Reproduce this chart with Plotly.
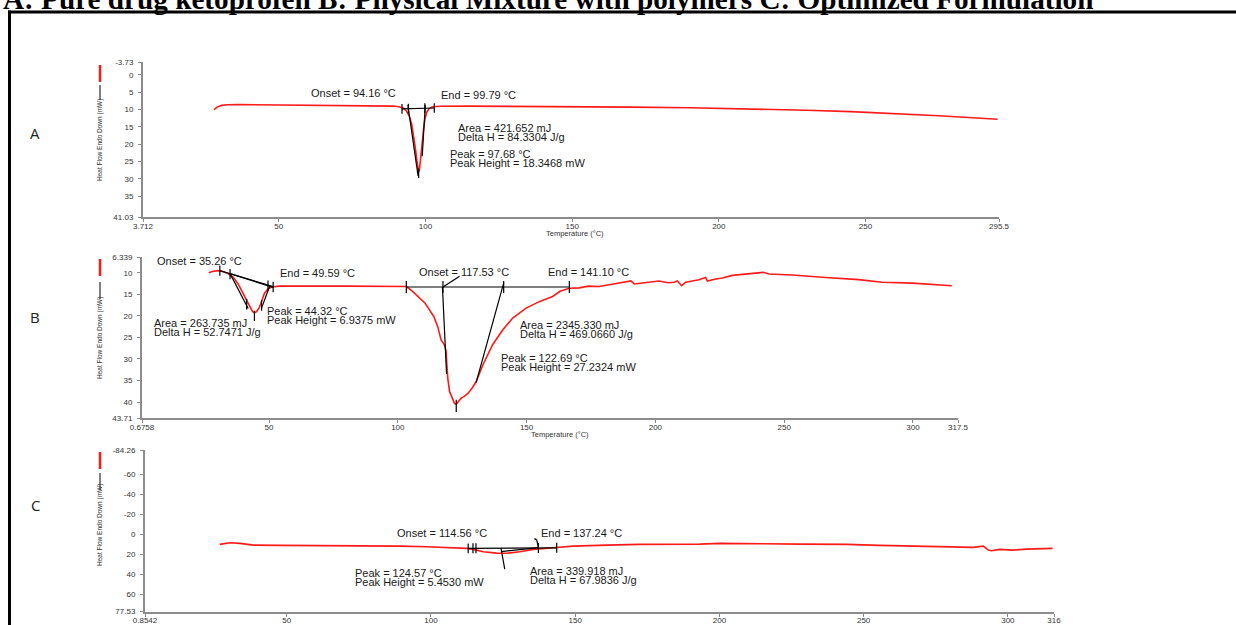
import plotly.graph_objects as go

W, H = 1236, 625

# ---------------- data: DSC thermograms ----------------
# A: pure ketoprofen
temp_a = [27.9, 29.0, 30.5, 32.5, 36.0, 45.0, 55.0, 65.0, 75.0, 85.0, 89.0, 91.0,
          92.5, 93.5, 94.5, 95.3, 96.0, 96.6, 97.1, 97.45, 97.68, 97.9, 98.3, 98.8,
          99.3, 99.8, 100.4, 101.2, 102.5, 105.0, 115.0, 130.0, 150.0, 170.0, 190.0,
          210.0, 230.0, 245.0, 260.0, 275.0, 285.0, 295.0]
flow_a = [10.0, 9.3, 8.8, 8.6, 8.55, 8.6, 8.7, 8.75, 8.8, 8.9, 9.0, 9.2,
          9.6, 10.4, 12.0, 14.2, 17.5, 21.5, 25.0, 27.3, 28.05, 27.6, 25.0, 20.5,
          16.0, 12.8, 10.8, 9.7, 9.2, 9.05, 9.0, 9.05, 9.15, 9.3, 9.5,
          9.8, 10.2, 10.6, 11.1, 11.8, 12.3, 12.8]

# B: physical mixture with polymers
temp_b = [26.6, 28.0, 30.0, 32.0, 34.0, 36.0, 38.0, 39.5, 41.0, 42.5, 43.5, 44.32,
          45.2, 46.2, 47.2, 48.2, 49.5, 51.0, 54.0, 60.0, 70.0, 80.0, 90.0, 100.0,
          103.3, 105.5, 108.4, 110.5, 112.3, 114.0, 115.5, 116.8, 118.1, 118.8, 119.0,
          119.4, 120.1, 121.3, 122.0, 122.69, 123.4, 124.6, 125.8, 127.2, 128.8, 130.4,
          133.0, 136.8, 140.7, 144.6, 149.8, 154.9, 160.1, 163.0, 166.6, 170.4, 174.0,
          178.2, 182.0, 187.2, 190.5, 191.8, 196.3, 201.4, 205.0, 207.3, 208.5, 210.2,
          211.8, 216.9, 219.5, 220.2, 223.0, 226.0, 229.9, 236.4, 241.8, 244.2, 253.1,
          266.1, 279.0, 288.0, 299.7, 315.1]
flow_b = [10.0, 9.7, 9.5, 9.7, 10.2, 11.0, 12.6, 14.3, 16.3, 17.9, 18.9, 19.3,
          19.0, 18.1, 16.4, 14.8, 13.8, 13.3, 13.1, 13.05, 13.1, 13.1, 13.15, 13.2,
          13.2, 14.2, 15.9, 17.0, 18.6, 20.2, 22.5, 25.6, 26.7, 28.3, 31.0,
          34.5, 37.6, 39.1, 40.3, 40.5, 39.9, 39.1, 38.7, 38.0, 36.8, 35.3,
          31.4, 26.7, 23.3, 20.5, 18.2, 16.7, 15.5, 14.3, 13.6, 13.5, 13.1,
          13.2, 12.8, 12.2, 11.9, 12.6, 12.2, 11.9, 12.3, 12.2, 11.9, 13.0,
          12.2, 11.6, 11.1, 11.9, 11.5, 11.2, 10.6, 10.3, 9.9, 10.3, 10.5,
          11.1, 11.6, 12.2, 12.4, 13.0]

# C: optimized formulation
temp_c = [26.8, 30.3, 33.8, 38.4, 47.6, 70.8, 89.2, 98.5, 105.4, 112.4, 114.7, 118.1,
          122.8, 124.57, 126.2, 130.8, 135.5, 142.4, 149.3, 160.9, 172.4, 193.2, 200.2,
          227.9, 244.1, 255.6, 267.2, 278.7, 288.0, 291.5, 293.2, 294.3, 297.2, 301.8,
          306.5, 315.5]
flow_c = [10.3, 8.7, 9.3, 11.0, 11.3, 11.3, 12.0, 12.7, 13.3, 14.3, 15.3, 17.7,
          19.1, 19.3, 19.2, 17.7, 15.3, 13.7, 12.0, 11.0, 10.3, 10.0, 9.3,
          10.0, 10.3, 11.3, 12.0, 13.3, 13.3, 12.0, 16.0, 16.7, 15.3, 16.0,
          15.0, 14.3]

# axis ranges and ticks
x_range_a = [3.712, 295.5]
x_ticks_a = [3.712, 50, 100, 150, 200, 250, 295.5]
x_text_a = ["3.712", "50", "100", "150", "200", "250", "295.5"]
y_range_a = [41.03, -3.73]
y_ticks_a = [-3.73, 0, 5, 10, 15, 20, 25, 30, 35, 41.03]
y_text_a = ["-3.73", "0", "5", "10", "15", "20", "25", "30", "35", "41.03"]

x_range_b = [0.6758, 317.5]
x_ticks_b = [0.6758, 50, 100, 150, 200, 250, 300, 317.5]
x_text_b = ["0.6758", "50", "100", "150", "200", "250", "300", "317.5"]
y_range_b = [43.71, 6.339]
y_ticks_b = [6.339, 10, 15, 20, 25, 30, 35, 40, 43.71]
y_text_b = ["6.339", "10", "15", "20", "25", "30", "35", "40", "43.71"]

x_range_c = [0.8542, 316]
x_ticks_c = [0.8542, 50, 100, 150, 200, 250, 300, 316]
x_text_c = ["0.8542", "50", "100", "150", "200", "250", "300", "316"]
y_range_c = [77.53, -84.26]
y_ticks_c = [-84.26, -60, -40, -20, 0, 20, 40, 60, 77.53]
y_text_c = ["-84.26", "-60", "-40", "-20", "0", "20", "40", "60", "77.53"]

# thermal analysis results
onset_a, end_a, peak_a = 94.16, 99.79, 97.68
onset_b1, end_b1, peak_b1 = 35.26, 49.59, 44.32
onset_b2, end_b2, peak_b2 = 117.53, 141.10, 122.69
onset_c, end_c, peak_c = 114.56, 137.24, 124.57


def px(x):
    return x / W


def py(y):
    return 1 - y / H


RED = "#ff1a1a"
AXIS = "#8c8c8c"
TICKFONT = dict(family="Arial, Liberation Sans", size=8, color="#333333")
LABELFONT = dict(family="Arial, Liberation Sans", size=11, color="#1a1a1a")

fig = go.Figure()
for t, f, xa, ya in [(temp_a, flow_a, "x", "y"), (temp_b, flow_b, "x2", "y2"),
                     (temp_c, flow_c, "x3", "y3")]:
    fig.add_trace(go.Scatter(x=t, y=f, xaxis=xa, yaxis=ya, mode="lines",
                             line=dict(color=RED, width=1.6), hoverinfo="skip",
                             showlegend=False))


def xaxis_cfg(left, right, rng, vals, text):
    return dict(domain=[px(left), px(right)], range=rng, tickvals=vals, ticktext=text,
                showline=True, linecolor=AXIS, linewidth=2, ticks="outside", ticklen=3,
                tickcolor=AXIS, tickwidth=1, showgrid=False, zeroline=False,
                tickfont=TICKFONT, tickangle=0, automargin=False, ticklabelstandoff=-3)


def yaxis_cfg(top, bottom, rng, vals, text):
    return dict(domain=[py(bottom), py(top)], range=rng, tickvals=vals, ticktext=text,
                showline=True, linecolor=AXIS, linewidth=2, ticks="outside", ticklen=3,
                tickcolor=AXIS, tickwidth=1, showgrid=False, zeroline=False,
                tickfont=TICKFONT, automargin=False, ticklabelstandoff=3)


layout = dict(
    width=W, height=H, margin=dict(l=0, r=0, t=0, b=0, pad=0),
    paper_bgcolor="white", plot_bgcolor="white", showlegend=False,
    xaxis=dict(anchor="y", **xaxis_cfg(143, 999, x_range_a, x_ticks_a, x_text_a)),
    yaxis=dict(anchor="x", **yaxis_cfg(62, 217, y_range_a, y_ticks_a, y_text_a)),
    xaxis2=dict(anchor="y2", **xaxis_cfg(142, 958, x_range_b, x_ticks_b, x_text_b)),
    yaxis2=dict(anchor="x2", **yaxis_cfg(257, 418, y_range_b, y_ticks_b, y_text_b)),
    xaxis3=dict(anchor="y3", **xaxis_cfg(145, 1054, x_range_c, x_ticks_c, x_text_c)),
    yaxis3=dict(anchor="x3", **yaxis_cfg(450, 611.5, y_range_c, y_ticks_c, y_text_c)),
)
fig.update_layout(**layout)

shapes = []


def seg(xa, ya, x0, y0, x1, y1, color="black", width=1.2):
    shapes.append(dict(type="line", xref=xa, yref=ya, x0=x0, y0=y0, x1=x1, y1=y1,
                       line=dict(color=color, width=width)))


def tick(xa, ya, x, y, half):
    seg(xa, ya, x, y - half, x, y + half)


# --- A: construction lines
seg("x", "y", 92.0, 9.8, 103.0, 9.55)
for tx, ty in [(92.0, 9.8), (onset_a, 9.75), (end_a, 9.6), (103.0, 9.55)]:
    tick("x", "y", tx, ty, 1.4)
seg("x", "y", onset_a - 0.15, 8.7, peak_a - 0.2, 29.2)
seg("x", "y", end_a + 0.15, 8.7, end_a - 0.9, 23.5)
tick("x", "y", peak_a, 28.4, 1.4)

# --- B: first (small) transition
seg("x2", "y2", 30.9, 9.5, 51.6, 13.2)
seg("x2", "y2", onset_b1 - 0.4, 10.2, 51.6, 13.4)
seg("x2", "y2", onset_b1 - 0.4, 10.2, 41.9, 18.3)
seg("x2", "y2", 47.1, 18.2, 50.3, 13.0)
for tx, ty in [(30.9, 9.5), (onset_b1 - 0.4, 10.3), (41.3, 17.3), (peak_b1, 20.0),
               (47.1, 17.6), (end_b1, 13.0), (51.6, 13.3)]:
    tick("x2", "y2", tx, ty, 1.2)

# --- B: main melting endotherm
seg("x2", "y2", 103.3, 13.3, 166.6, 13.3)
for tx in [103.3, onset_b2, end_b2, 166.6]:
    tick("x2", "y2", tx, 13.3, 1.4)
seg("x2", "y2", onset_b2 - 0.2, 13.3, onset_b2 + 1.4, 33.5)
seg("x2", "y2", onset_b2, 13.3, 124.0, 10.8)
seg("x2", "y2", end_b2, 12.4, 130.4, 35.5)
tick("x2", "y2", peak_b2, 40.9, 1.4)

# --- C: formulation endotherm
seg("x3", "y3", 112.9, 14.3, 143.6, 13.7)
for tx, ty in [(112.9, 14.3), (onset_c, 14.2), (115.6, 14.2), (end_c, 13.8),
               (143.6, 13.7)]:
    tick("x3", "y3", tx, ty, 5)
seg("x3", "y3", peak_c - 0.3, 14.0, peak_c + 1.0, 35.0)
seg("x3", "y3", peak_c - 0.3, 17.5, end_c, 13.5)
seg("x3", "y3", end_c, 13.5, end_c - 0.6, 5.5)
seg("x3", "y3", end_c - 0.6, 5.5, end_c - 1.4, 4.5)

# --- legend keys beside the y-axis titles
for r0, r1, k0, k1 in [(65, 82, 85, 100), (259, 276, 282, 299), (452, 469, 473, 490)]:
    shapes.append(dict(type="line", xref="paper", yref="paper", x0=px(100), x1=px(100),
                       y0=py(r0), y1=py(r1), line=dict(color=RED, width=2.5)))
    shapes.append(dict(type="line", xref="paper", yref="paper", x0=px(100), x1=px(100),
                       y0=py(k0), y1=py(k1), line=dict(color="black", width=1)))

# --- frame
shapes.append(dict(type="line", xref="paper", yref="paper", x0=px(8), x1=1.0,
                   y0=py(12), y1=py(12), line=dict(color="black", width=3)))
shapes.append(dict(type="line", xref="paper", yref="paper", x0=px(9.5), x1=px(9.5),
                   y0=py(10.5), y1=0, line=dict(color="black", width=3)))

fig.update_layout(shapes=shapes)

annotations = []


def label(text, x, y, font=LABELFONT, xanchor="left", **kw):
    annotations.append(dict(text=text, x=px(x), y=py(y), xref="paper", yref="paper",
                            xanchor=xanchor, yanchor="middle", showarrow=False,
                            font=font, **kw))


label("Onset = 94.16 °C", 309, 93)
label("End = 99.79 °C", 439, 95)
label("Area = 421.652 mJ", 456, 128)
label("Delta H = 84.3304 J/g", 456, 137)
label("Peak = 97.68 °C", 448, 154)
label("Peak Height = 18.3468 mW", 448, 163)

label("Onset = 35.26 °C", 155, 261)
label("End = 49.59 °C", 278, 273)
label("Onset = 117.53 °C", 417, 272)
label("End = 141.10 °C", 546, 272)
label("Peak = 44.32 °C", 265, 311)
label("Peak Height = 6.9375 mW", 265, 320)
label("Area = 263.735 mJ", 152, 323)
label("Delta H = 52.7471 J/g", 152, 332)
label("Area = 2345.330 mJ", 518, 325)
label("Delta H = 469.0660 J/g", 518, 334)
label("Peak = 122.69 °C", 499, 358)
label("Peak Height = 27.2324 mW", 499, 367)

label("Onset = 114.56 °C", 395, 533)
label("End = 137.24 °C", 539, 533)
label("Peak = 124.57 °C", 353, 573)
label("Peak Height = 5.4530 mW", 353, 582)
label("Area = 339.918 mJ", 528, 571)
label("Delta H = 67.9836 J/g", 528, 580)

AXTITLE = dict(family="Arial, Liberation Sans", size=7.5, color="#333333")
for cx, cy in [(575, 233), (560, 434), (575, 628)]:
    label("Temperature (°C)", cx, cy, font=AXTITLE, xanchor="center")

YTITLE = dict(family="Liberation Sans Narrow, Arial Narrow, Arial", size=6.5,
              color="#333333")
for cy in [140, 338, 525]:
    label("Heat Flow Endo Down (mW)", 100, cy, font=YTITLE, xanchor="center",
          textangle=-90)

PANEL = dict(family="Open Sans, Calibri, Arial", size=15, color="#222222")
for name, cy in [("A", 133), ("B", 317), ("C", 505)]:
    label(name, 35, cy, font=PANEL, xanchor="center")

annotations.append(dict(
    text="<b>A: Pure drug ketoprofen B: Physical Mixture with polymers C: Optimized Formulation</b>",
    x=px(1), y=py(17), xref="paper", yref="paper", xanchor="left", yanchor="bottom",
    showarrow=False,
    font=dict(family="Liberation Serif, Times New Roman, serif", size=29.2, color="black")))

fig.update_layout(annotations=annotations)

fig.write_html(
    "out.html",
    post_script="document.body.style.margin='0';document.body.style.padding='0';"
                "document.documentElement.style.overflow='hidden';",
)
